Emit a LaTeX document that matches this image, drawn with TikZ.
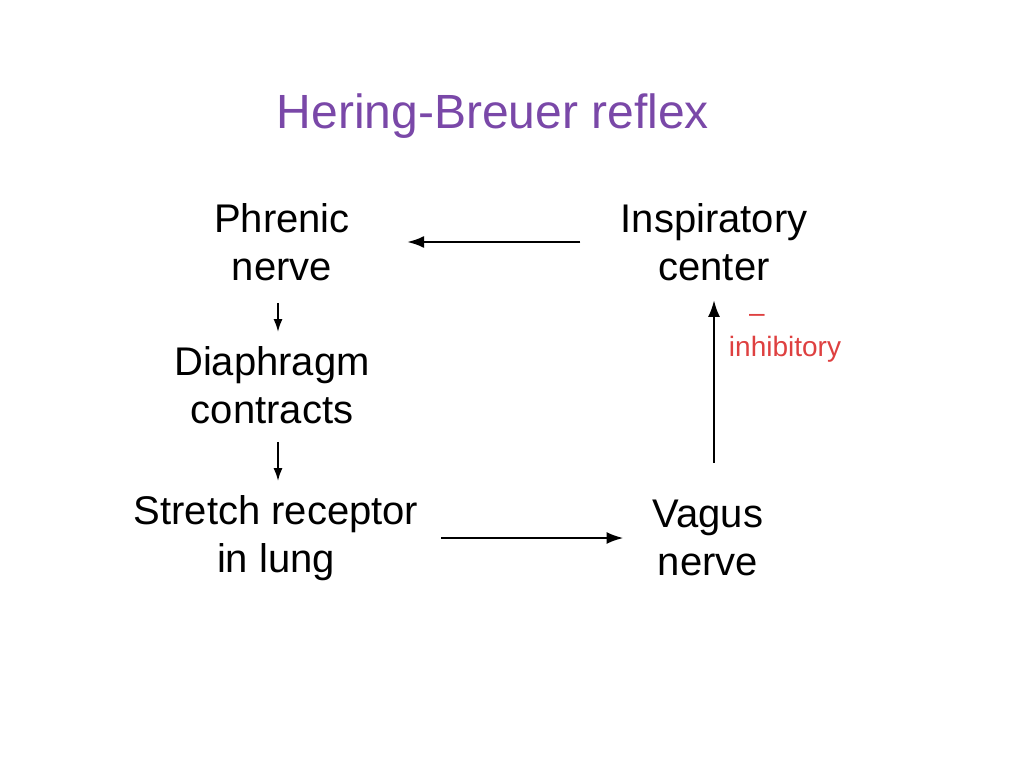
\documentclass[tikz,border=0pt]{standalone}
\usepackage{fontspec}
\setmainfont{Liberation Sans}
\usetikzlibrary{arrows.meta,positioning,calc}
\definecolor{titlepurple}{RGB}{122,72,168}
\definecolor{inhred}{RGB}{222,64,64}
\begin{document}
\begin{tikzpicture}[
  x=1pt, y=-1pt,
  lbl/.style={align=center, inner sep=0pt, font=\fontsize{40}{48}\selectfont},
  arr/.style={-{Latex[length=17pt,width=12pt]}, line width=2.6pt},
  sarr/.style={-{Latex[length=13pt,width=9pt]}, line width=2pt},
]
\useasboundingbox (0,0) rectangle (1024,768);
\node[font=\fontsize{48}{56}\selectfont, text=titlepurple, inner sep=0pt] (title) at (493,116) {Hering-Breuer reflex};
\node[lbl] (phr) at (282,242) {Phrenic\\nerve};
\node[lbl] (insp) at (714,242) {Inspiratory\\center};
\node[lbl] (dia) at (272,385) {Diaphragm\\contracts};
\node[lbl] (str) at (276,538) {Stretch receptor\\in lung};
\node[lbl] (vag) at (708,538) {Vagus\\nerve};
\node[text=inhred, inner sep=0pt, font=\fontsize{28}{32}\selectfont] (inh) at (785,349) {inhibitory};
\node[text=inhred, inner sep=0pt, font=\fontsize{28}{32}\selectfont] (minus) at (757,318) {--};
% connectors
\draw[arr, shorten <=40pt, shorten >=57pt] (insp.west) -- (phr.east |- insp.west);
\draw[sarr, shorten <=22pt, shorten >=14pt] ([xshift=-4pt]phr.south) -- ([xshift=-4pt]phr.south |- dia.north);
\draw[sarr, shorten <=18pt, shorten >=14pt] ([xshift=6pt]dia.south) -- ([xshift=6pt]dia.south |- str.north);
\draw[arr, shorten <=23pt, shorten >=29pt] (str.east) -- (vag.west |- str.east);
\draw[arr, shorten <=37pt, shorten >=19pt] ([xshift=6pt]vag.north) -- ([xshift=6pt]vag.north |- insp.south);
\end{tikzpicture}
\end{document}
